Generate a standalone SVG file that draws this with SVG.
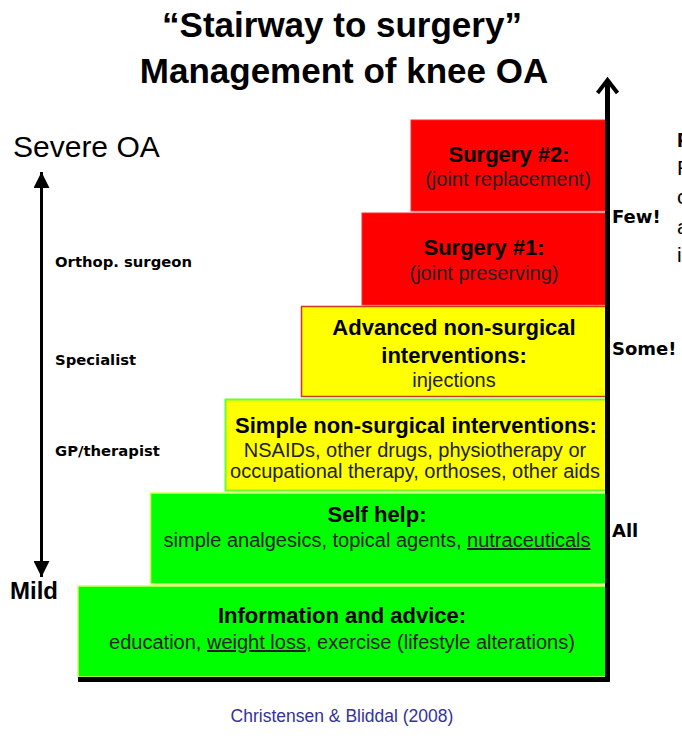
<svg xmlns="http://www.w3.org/2000/svg" width="682" height="753" viewBox="0 0 682 753">
<defs>
<style>
.ttl{font-family:"Liberation Sans",Arial,sans-serif;font-weight:bold;font-size:35px;fill:#000;text-anchor:middle}
.hd{font-family:"Liberation Sans",Arial,sans-serif;font-weight:bold;font-size:22px;fill:#000;text-anchor:middle}
.sub{font-family:"Liberation Sans",Arial,sans-serif;font-size:20px;fill:#222;text-anchor:middle}
.lab{font-family:"DejaVu Sans",Verdana,sans-serif;font-weight:bold;font-size:14.8px;fill:#000}
.cnt{font-family:"DejaVu Sans",Verdana,sans-serif;font-weight:bold;font-size:18px;fill:#000}
.side{font-family:"Liberation Sans",Arial,sans-serif;font-size:21px;fill:#000}
.red{fill:#ff0000;stroke:#ff2a2a;stroke-width:1}
.yel{fill:#ffff00}
.grn{fill:#00ff00;stroke:#d8ff5a;stroke-width:1.5}
.u{text-decoration:underline}
</style>
<marker id="tri" markerUnits="userSpaceOnUse" markerWidth="16" markerHeight="16" viewBox="0 0 16 16" refX="16" refY="8" orient="auto-start-reverse">
<path d="M0,0 L16,8 L0,16 z" fill="#000"/>
</marker>
<marker id="chev" markerUnits="userSpaceOnUse" markerWidth="20" markerHeight="24" viewBox="0 0 20 24" refX="16" refY="12" orient="auto">
<path d="M3,2 L16,12 L3,22" fill="none" stroke="#000" stroke-width="4"/>
</marker>
</defs>
<rect x="0" y="0" width="682" height="753" fill="#fff"/>

<g id="title">
<text class="ttl" x="342" y="37">“Stairway to surgery”</text>
<text class="ttl" x="344" y="83">Management of knee OA</text>
</g>

<g id="step-surgery2">
<rect class="red" x="411" y="120" width="195" height="91"/>
<text class="hd" x="509" y="162">Surgery #2:</text>
<text class="sub" x="508" y="186">(joint replacement)</text>
</g>
<g id="step-surgery1">
<rect class="red" x="362" y="213" width="244" height="92"/>
<text class="hd" x="484" y="255">Surgery #1:</text>
<text class="sub" x="484" y="280">(joint preserving)</text>
</g>
<g id="step-advanced">
<rect class="yel" x="301.5" y="306.5" width="305" height="90" stroke="#cc3a1a" stroke-width="1.5"/>
<text class="hd" x="454" y="335">Advanced non-surgical</text>
<text class="hd" x="454" y="363">interventions:</text>
<text class="sub" x="454" y="387">injections</text>
</g>
<g id="step-simple">
<rect class="yel" x="225.5" y="399.5" width="381" height="91" stroke="#66ff33" stroke-width="2"/>
<text class="hd" x="416" y="433">Simple non-surgical interventions:</text>
<text class="sub" x="415" y="457">NSAIDs, other drugs, physiotherapy or</text>
<text class="sub" x="415" y="478">occupational therapy, orthoses, other aids</text>
</g>
<g id="step-selfhelp">
<rect class="grn" x="150.5" y="493" width="456" height="91"/>
<text class="hd" x="377" y="522">Self help:</text>
<text class="sub" x="377" y="547">simple analgesics, topical agents, <tspan class="u">nutraceuticals</tspan></text>
</g>
<g id="step-information">
<rect class="grn" x="78" y="586" width="528" height="91"/>
<rect x="78" y="677" width="532" height="5" fill="#000"/>
<text class="hd" x="342" y="623">Information and advice:</text>
<text class="sub" x="342" y="649">education, <tspan class="u">weight loss</tspan>, exercise (lifestyle alterations)</text>
</g>

<g id="severity-labels">
<text x="13" y="157" font-family="Liberation Sans, Arial, sans-serif" font-size="30" fill="#000">Severe OA</text>
<text x="10" y="599" font-family="Liberation Sans, Arial, sans-serif" font-weight="bold" font-size="24" fill="#000">Mild</text>
</g>
<g id="provider-labels">
<text class="lab" x="55" y="267">Orthop. surgeon</text>
<text class="lab" x="55" y="365">Specialist</text>
<text class="lab" x="55" y="456">GP/therapist</text>
</g>
<g id="count-labels">
<text class="cnt" x="612" y="223">Few!</text>
<text class="cnt" x="612" y="355">Some!</text>
<text class="cnt" x="612" y="537">All</text>
</g>
<g id="side-text">
<text class="side" x="677" y="147" font-weight="bold">F</text>
<text class="side" x="677" y="175">R</text>
<text class="side" x="677" y="204">c</text>
<text class="side" x="677" y="234">a</text>
<text class="side" x="677" y="262">i</text>
</g>

<g id="connectors">
<line x1="41.5" y1="172" x2="41.5" y2="577" stroke="#000" stroke-width="3" marker-start="url(#tri)" marker-end="url(#tri)"/>
<line x1="607.5" y1="682" x2="607.5" y2="80" stroke="#000" stroke-width="5" marker-end="url(#chev)"/>
</g>

<g id="citation">
<text x="342" y="722" text-anchor="middle" font-family="Liberation Sans, Arial, sans-serif" font-size="17.5" fill="#333399">Christensen &amp; Bliddal (2008)</text>
</g>
</svg>
